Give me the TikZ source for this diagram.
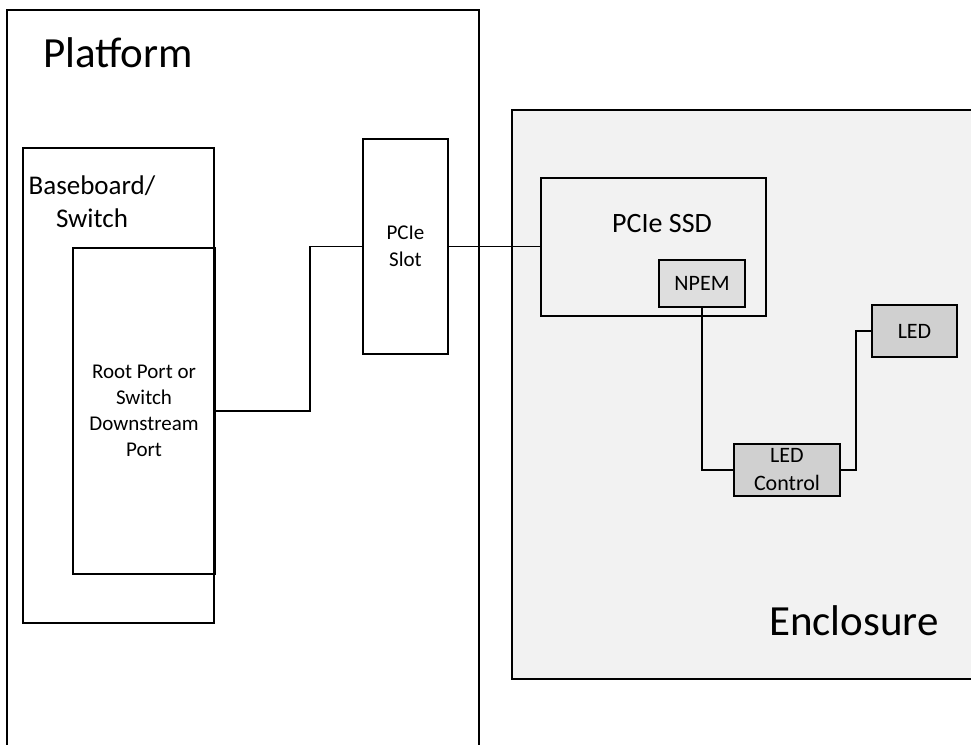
\documentclass[tikz,border=0pt]{standalone}
\usepackage{fontspec}
\setmainfont{Carlito}
\usetikzlibrary{positioning}
\definecolor{encl}{HTML}{F2F2F2}
\definecolor{npemgray}{HTML}{DEDEDE}
\definecolor{ledgray}{HTML}{D0D0D0}
\newcommand{\fsz}[2]{\fontsize{#1}{#2}\selectfont}
\begin{document}
\begin{tikzpicture}[x=1pt,y=-1pt,
    box/.style={draw,line width=1.2pt,inner sep=0pt,outer sep=0pt,anchor=north west},
    wire/.style={draw,line width=1.2pt},
    lbl/.style={inner sep=0pt,anchor=base west}]
  \useasboundingbox (0,0) rectangle (971,744);

  % outer frames
  \node[box,fill=encl,minimum width=520,minimum height=569] (enclosure) at (512,110) {};
  \node[box,minimum width=472,minimum height=800] (platform) at (7,10) {};
  \node[lbl,font=\fsz{43}{52}] (platformlabel) at (43,67) {Platform};
  \node[lbl,font=\fsz{43}{52}] (enclosurelabel) at (769,635) {Enclosure};

  % platform side
  \node[box,minimum width=191,minimum height=475] (board) at (23,148) {};
  \node[inner sep=0pt,align=center,anchor=base,font=\fsz{27}{33}] (boardlabel) at (92,227)
    {Baseboard/\\ Switch};
  \node[box,minimum width=142,minimum height=326,align=center,font=\fsz{21}{26}] (rootport) at (73,248)
    {Root Port or\\ Switch\\ Downstream\\ Port};
  \node[box,minimum width=85,minimum height=215,align=center,font=\fsz{21}{27}] (slot) at (363,139)
    {PCIe\\ Slot};

  % enclosure side
  \node[box,minimum width=225,minimum height=138] (ssd) at (541,178) {};
  \node[inner sep=0pt,anchor=base,font=\fsz{28}{34}] (ssdlabel) at (662,232) {PCIe SSD};
  \node[box,fill=npemgray,minimum width=86,minimum height=47,font=\fsz{22}{26}] (npem) at (659,260)
    {NPEM};
  \node[box,fill=ledgray,minimum width=85,minimum height=52,font=\fsz{22}{26}] (led) at (872,305)
    {LED};
  \node[box,fill=ledgray,minimum width=106,minimum height=52,align=center,font=\fsz{22}{28}] (ledctl) at (734,444)
    {LED\\ Control};

  % links
  \draw[wire] (rootport.east) -- ++(95,0) |- (slot.west);
  \draw[wire] (slot.east) -- (slot.east -| ssd.west);
  \draw[wire] (npem.south) |- (ledctl.west);
  \draw[wire] (ledctl.east) -- ++(16,0) |- (led.west);
\end{tikzpicture}
\end{document}
